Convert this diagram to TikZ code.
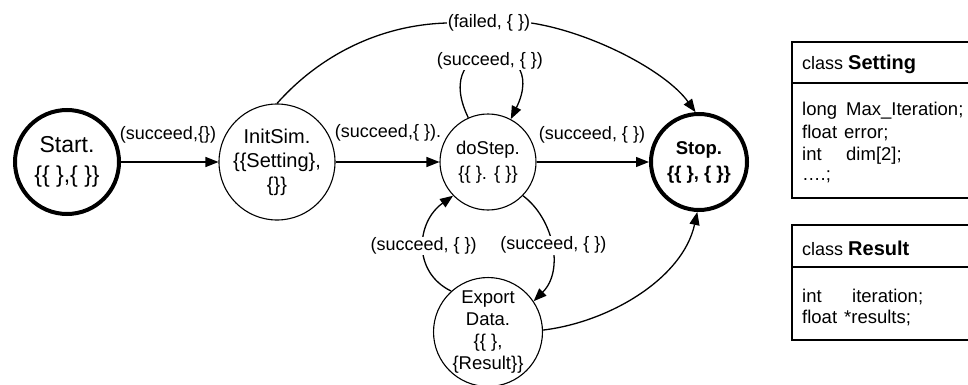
\documentclass[tikz,border=0pt]{standalone}
\usepackage{fontspec}
\setmainfont{Liberation Sans}
\usetikzlibrary{arrows.meta}
\begin{document}
\begin{tikzpicture}[x=1pt,y=-1pt,
  state/.style={circle, draw, line width=1.1pt, inner sep=0pt, align=center},
  terminal/.style={state, line width=4pt},
  lbl/.style={inner sep=1pt, font=\fontsize{18}{22}\selectfont},
  cover/.style={lbl, fill=white},
  conn/.style={line width=1.3pt},
  arr/.style={conn, -{Triangle[length=13pt,width=10pt]}},
  member/.style={anchor=base west, inner sep=0pt, font=\fontsize{18.5}{22}\selectfont},
  frame/.style={line width=1.4pt},
]
\useasboundingbox (0,0) rectangle (968,385);

% states of the simulation
\node[terminal, minimum size=104pt, font=\fontsize{23}{30}\selectfont] (start) at (67,162) {Start.\\\{\{ \},\{ \}\}};
\node[state, minimum size=116pt, font=\fontsize{20}{24}\selectfont] (init) at (277,162) {InitSim.\\\{\{Setting\},\\\{\}\}};
\node[state, minimum size=96pt, font=\fontsize{18.5}{25}\selectfont] (dostep) at (488,162) {doStep.\\\{\{ \}. \{ \}\}};
\node[terminal, minimum size=96pt, font=\bfseries\fontsize{18.5}{25}\selectfont] (stop) at (699,162) {Stop.\\\{\{ \}, \{ \}\}};
\node[state, minimum size=104pt, font=\fontsize{18.5}{22}\selectfont] (export) at (488,332) {Export\\Data.\\\{\{ \},\\\{Result\}\}};

% transition labels beside straight edges and on the failure arc
\node[lbl] (l1) at (168,135) {(succeed,\{\})};
\node[lbl] (l2) at (388,133) {(succeed,\{ \}).};
\node[lbl] (l3) at (592,135) {(succeed, \{ \})};
\node[lbl] (lf) at (489,23) {(failed, \{ \})};

% transitions
\draw[arr] (start) -- (init);
\draw[arr] (init) -- (dostep);
\draw[arr] (dostep) -- (stop);

\draw[conn] (init.north) .. controls (320,55) and (380,25) .. (lf.west);
\draw[arr] (lf.east) .. controls (590,32) and (665,70) .. (stop.94);

\draw[arr] (dostep.114) .. controls (428,35) and (552,35) .. (dostep.62)
  node[cover, pos=.5, yshift=-5pt] (ls) {(succeed, \{ \})};
\draw[arr] (export.132) .. controls (412,272) and (416,222) .. (dostep.224)
  node[cover, pos=.5] (ll) {(succeed, \{ \})};
\draw[arr] (dostep.-44) .. controls (553,218) and (565,270) .. (export.34)
  node[cover, pos=.5, xshift=2pt] (lr) {(succeed, \{ \})};
\draw[arr] (export.2) .. controls (610,322) and (683,278) .. (stop.-92);

% class Setting
\draw[frame] (968,42) -| (792,198) -- (968,198);
\draw[frame] (792,83) -- (968,83);
\node[member] (sethead) at (802,70) {\fontsize{18}{22}\selectfont class \fontsize{20}{22}\selectfont\textbf{Setting}};
\node[member] (set1) at (802,116) {\makebox[44pt][l]{long}Max\_Iteration;};
\node[member] (set2) at (802,138) {\makebox[42pt][l]{float}error;};
\node[member] (set3) at (802,160) {\makebox[44pt][l]{int}dim[2];};
\node[member] (set4) at (802,180) {….;};

% class Result
\draw[frame] (968,225) -| (792,340) -- (968,340);
\draw[frame] (792,267) -- (968,267);
\node[member] (reshead) at (802,255) {\fontsize{18}{22}\selectfont class \fontsize{20}{22}\selectfont\textbf{Result}};
\node[member] (res1) at (802,302) {\makebox[50pt][l]{int}iteration;};
\node[member] (res2) at (802,323) {\makebox[42pt][l]{float}*results;};
\end{tikzpicture}
\end{document}
